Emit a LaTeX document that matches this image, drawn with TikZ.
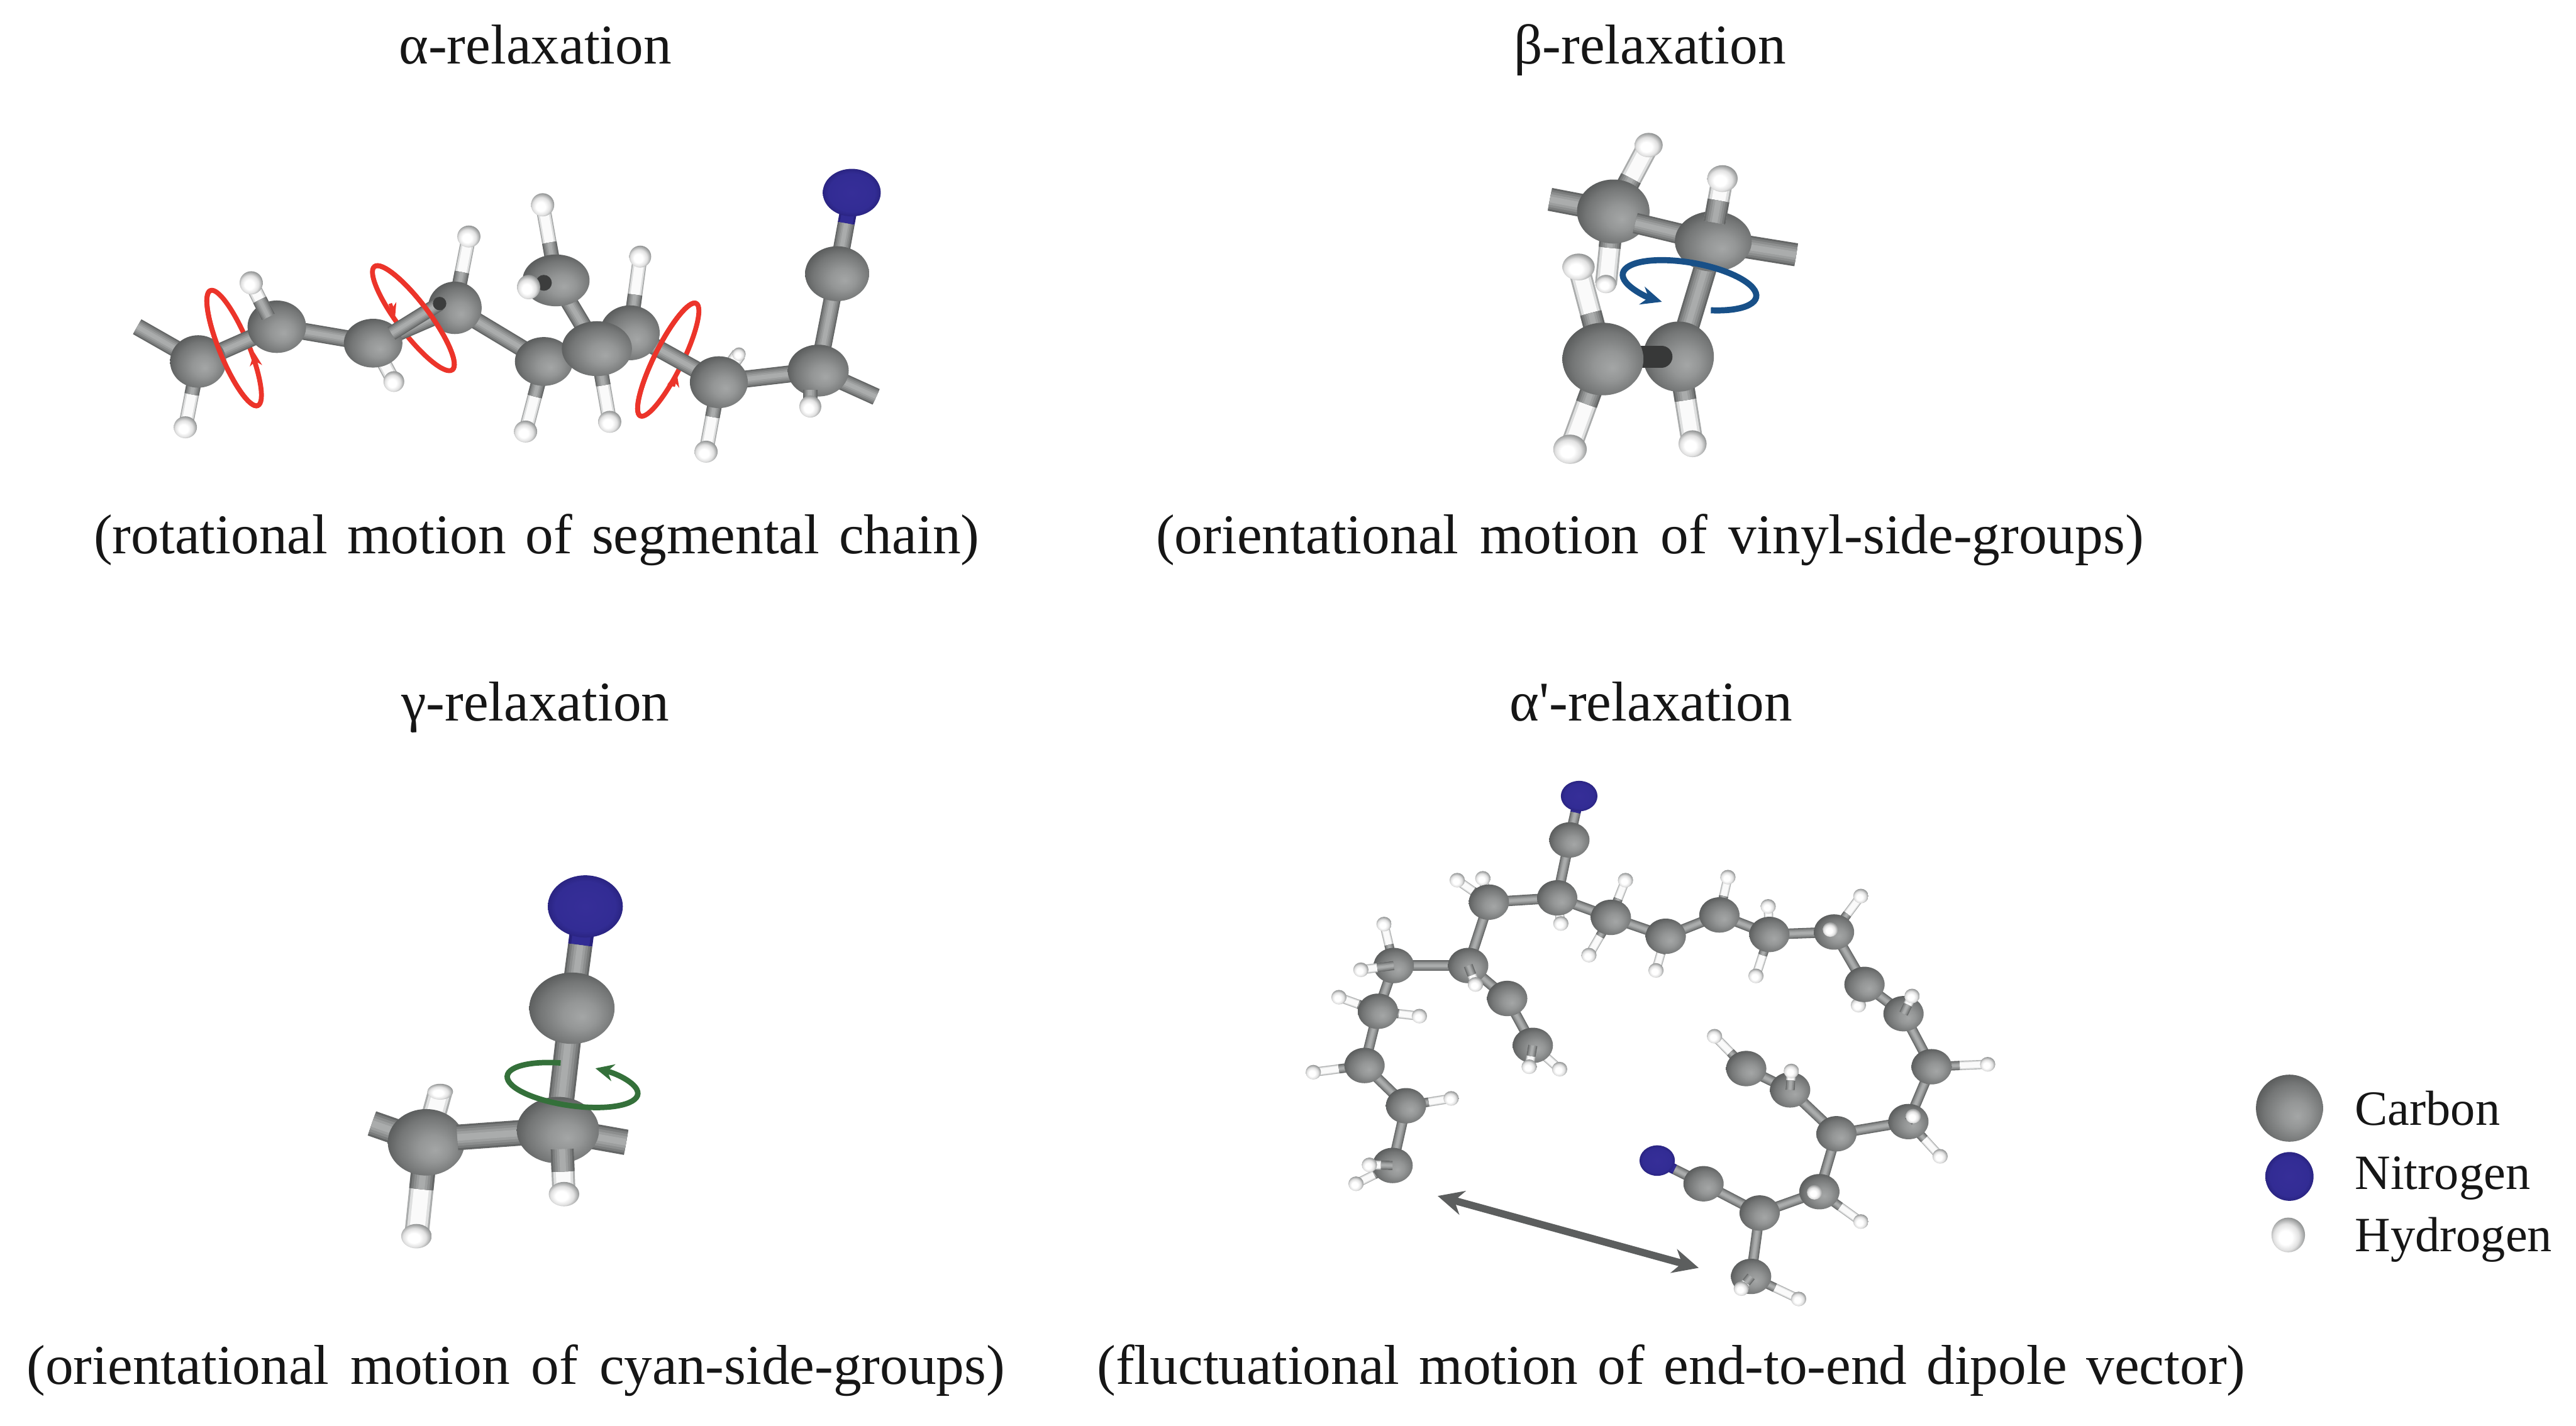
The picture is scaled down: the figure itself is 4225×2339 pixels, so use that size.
\documentclass[tikz,border=0pt]{standalone}
\usepackage{fontspec}
\setmainfont{Liberation Serif}
\newfontfamily\plainf{Liberation Serif}
\usetikzlibrary{shapes.geometric,arrows.meta,calc}
\pgfdeclarelayer{paper}\pgfdeclarelayer{bg}\pgfdeclarelayer{fg}
\pgfsetlayers{paper,bg,main,fg}
\definecolor{cb0}{RGB}{100,102,102}
\definecolor{cb1}{RGB}{122,124,124}
\definecolor{cb2}{RGB}{140,142,142}
\definecolor{cb3}{RGB}{156,158,158}
\definecolor{cb4}{RGB}{170,172,172}
\definecolor{hed}{RGB}{170,172,172}
\definecolor{hmd}{RGB}{222,223,223}
\definecolor{hlt}{RGB}{250,250,250}
\definecolor{nblue}{RGB}{50,44,148}
\definecolor{ndark}{RGB}{40,34,125}
\definecolor{ringred}{RGB}{236,52,42}
\definecolor{ringblue}{RGB}{24,80,136}
\definecolor{ringgreen}{RGB}{52,112,58}
\definecolor{arrgray}{RGB}{92,94,94}
\definecolor{inkc}{RGB}{22,22,22}
\definecolor{cs0}{RGB}{164,166,166}
\definecolor{cs1}{RGB}{148,150,150}
\definecolor{cs2}{RGB}{116,118,118}
\definecolor{cs3}{RGB}{78,80,80}
\definecolor{cs4}{RGB}{58,60,60}
\definecolor{hs2}{RGB}{225,225,225}
\definecolor{hs3}{RGB}{150,152,152}
\definecolor{hs4}{RGB}{95,97,97}
\definecolor{ns0}{RGB}{54,46,152}
\definecolor{ns1}{RGB}{50,44,148}
\definecolor{ns2}{RGB}{42,36,130}
\pgfdeclareradialshading{carbonsh}{\pgfpoint{6bp}{-6bp}}{color(0bp)=(cs0);color(10bp)=(cs1);color(22bp)=(cs2);color(32bp)=(cs3);color(50bp)=(cs4)}
\pgfdeclareradialshading{hydrosh}{\pgfpoint{-5bp}{-5bp}}{color(0bp)=(white);color(10bp)=(white);color(19bp)=(hs2);color(27bp)=(hs3);color(35bp)=(hs4);color(50bp)=(hs4)}
\pgfdeclareradialshading{nitrosh}{\pgfpoint{0bp}{0bp}}{color(0bp)=(ns0);color(20bp)=(ns1);color(25bp)=(ns2);color(50bp)=(ns2)}
\tikzset{
 atomshape/.style={ellipse,inner sep=0pt,outer sep=0pt,draw=none},
 carbon/.style={atomshape,shading=carbonsh},
 hydro/.style={atomshape,shading=hydrosh},
 nitro/.style={atomshape,shading=nitrosh},
 title/.style={anchor=base,text=inkc,font=\fontsize{26.2}{30}\selectfont},
 capt/.style={anchor=base,text=inkc,font=\fontsize{26.2}{30}\selectfont,execute at begin node={\spaceskip=.38em\relax}},
 capttight/.style={anchor=base,text=inkc,font=\fontsize{26.2}{30}\selectfont,execute at begin node={\spaceskip=.345em\relax}},
 legendt/.style={anchor=base west,text=inkc,font=\fontsize{23}{28}\selectfont},
 redline/.style={draw=ringred,line width=.08cm},
 blueline/.style={draw=ringblue,line width=.1cm},
 greenline/.style={draw=ringgreen,line width=.09cm},
}
\def\bw{26}
% #1 name, #2 x,y, #3 w, #4 h
\newcommand\atC[4]{\node[carbon,minimum width=#3*0.01cm,minimum height=#4*0.01cm] (#1) at (#2) {};}
\newcommand\atH[4]{\node[hydro,minimum width=#3*0.01cm,minimum height=#4*0.01cm] (#1) at (#2) {};}
\newcommand\atN[4]{\node[nitro,minimum width=#3*0.01cm,minimum height=#4*0.01cm] (#1) at (#2) {};}
\newcommand\grayseg[2]{%
 \draw[cb0,line width=\bw*0.01cm] (#1) -- (#2);
 \draw[cb1,line width=\bw*0.84*0.01cm] (#1) -- (#2);
 \draw[cb2,line width=\bw*0.66*0.01cm] (#1) -- (#2);
 \draw[cb3,line width=\bw*0.46*0.01cm] (#1) -- (#2);
 \draw[cb4,line width=\bw*0.26*0.01cm] (#1) -- (#2);}
\newcommand\mkbond[2]{\grayseg{#1.center}{#2.center}}
\newcommand\mkhb[2]{%
 \draw[hed,line width=\bw*0.01cm] (#1.center) -- (#2.center);
 \draw[hmd,line width=\bw*0.84*0.01cm] (#1.center) -- (#2.center);
 \draw[hlt,line width=\bw*0.62*0.01cm] (#1.center) -- (#2.center);
 \grayseg{#1.center}{$(#1.center)!.5!(#2.center)$}}
\newcommand\mknb[2]{%
 \draw[ndark,line width=\bw*0.01cm] (#2.center) -- ($(#1.center)!.62!(#2.center)$);
 \draw[nblue,line width=\bw*0.75*0.01cm] (#2.center) -- ($(#1.center)!.62!(#2.center)$);
 \grayseg{#1.center}{$(#1.center)!.62!(#2.center)$}}
\newcommand\redback[4]{\draw[redline,shift={(#1)},rotate=#4] (0,0) circle [x radius=#2cm,y radius=#3cm];}
\newcommand\redfront[6]{\draw[redline,shift={(#1)},rotate=#4] (#5:#2cm and #3cm) arc [start angle=#5,end angle=#6,x radius=#2cm,y radius=#3cm];}
\begin{document}
\begin{tikzpicture}[x=0.01cm,y=-0.01cm]
\begin{pgfonlayer}{paper}
\path[use as bounding box,fill=white] (0,0) rectangle (4225,2339);
\end{pgfonlayer}
% ---------- texts
\node[title] (ta) at (878,105) {α-relaxation};
\node[title] (tb) at (2706,105) {β-relaxation};
\node[title] (tc) at (878,1183) {γ-relaxation};
\node[title] (td) at (2708,1183) {α{\plainf '}-relaxation};
\node[capttight] (ca) at (880,908) {(rotational motion of segmental chain)};
\node[capt] (cb) at (2706,908) {(orientational motion of vinyl-side-groups)};
\node[capt] (cc) at (846,2271) {(orientational motion of cyan-side-groups)};
\node[capttight] (cd) at (2741,2271) {(fluctuational motion of end-to-end dipole vector)};
% ---------- alpha molecule
\atH{aH1}{304,701}{38}{36}
\atH{aH3}{646,626}{34}{34}
\atH{aH4}{769,388}{38}{36}
\atH{aH5}{890,336}{38}{38}
\atH{aH7}{1050,421}{36}{36}
\atH{aH8}{862,708}{38}{36}
\atH{aH9}{1000,692}{38}{36}
\atH{aH10}{1158,741}{38}{36}
\atH{aH12}{1212,581}{22}{22}
\atN{aN}{1397,316}{95}{78}
\atC{a7}{1033,546}{98}{90}
\atC{a1}{325,593}{92}{86}
\atC{a2}{454,536}{96}{86}
\atC{a3}{612,563}{96}{80}
\atC{a4}{746,505}{88}{86}
\atC{a5}{892,593}{95}{80}
\atC{a6}{979,572}{115}{90}
\atC{a8}{912,460}{110}{85}
\atC{a9}{1179,627}{95}{85}
\atC{a10}{1342,608}{100}{85}
\atC{a11}{1373,449}{105}{90}
\coordinate (aL) at (225,536);
\coordinate (aR) at (1437,651);
\coordinate (a3i) at (642,547);
\coordinate (a4i) at (721,498);
\coordinate (a8i) at (892,464);
\coordinate (aH2i) at (440,520);
\coordinate (aH2e) at (412,464);
\coordinate (aH11i) at (1329,640);
\coordinate (aH11e) at (1329,667);
\begin{pgfonlayer}{bg}
 \redback{384,571}{1.02}{.24}{-67.6}
 \redback{678,522}{1.06}{.26}{-53}
 \redback{1096,590}{1.03}{.23}{63.6}
 \def\bw{28}
 \mkbond{aL}{a1}\mkbond{a1}{a2}\mkbond{a2}{a3}\mkbond{a3}{a4}\mkbond{a4}{a5}\mkbond{a5}{a6}\mkbond{a6}{a8}\mkbond{a6}{a7}\mkbond{a7}{a9}\mkbond{a9}{a10}\mkbond{a10}{aR}\mkbond{a10}{a11}
 \mknb{a11}{aN}
 \def\bw{24}
 \mkhb{a1}{aH1}\mkhb{a3}{aH3}\mkhb{a4}{aH4}\mkhb{a8}{aH5}\mkhb{a7}{aH7}\mkhb{a5}{aH8}\mkhb{a6}{aH9}\mkhb{a9}{aH10}\mkhb{a9}{aH12}
\end{pgfonlayer}
\begin{pgfonlayer}{fg}
 \def\bw{24}
 \grayseg{a3i}{a4i}
 \fill[cb0!60!black] (a4i) circle [radius=.11cm];
 \mkhb{aH2i}{aH2e}
 \atH{aH2}{412,464}{38}{38}
 \fill[cb0!60!black] (a8i) circle [radius=.13cm];
 \atH{aH6}{867,471}{38}{40}
 \grayseg{aH11i}{aH11e}
 \atH{aH11}{1329,667}{36}{36}
 \redfront{384,571}{1.02}{.24}{-67.6}{180}{360}
 \redfront{678,522}{1.06}{.26}{-53}{0}{180}
 \redfront{1096,590}{1.03}{.23}{63.6}{0}{180}
 \draw[ringred,line width=.06cm,-{Stealth[length=.22cm,width=.2cm]}] (420,602) -- (417,578);
 \draw[ringred,line width=.06cm,-{Stealth[length=.22cm,width=.2cm]}] (640,498) -- (648,520);
 \draw[ringred,line width=.06cm,-{Stealth[length=.22cm,width=.2cm]}] (1104,634) -- (1110,612);
\end{pgfonlayer}
% ---------- beta molecule
\atH{bHd}{2634,466}{34}{30}
\atH{bHc}{2589,438}{53}{44}
\atH{bHa}{2704,238}{46}{40}
\atH{bHe}{2575,737}{55}{48}
\atH{bHf}{2776,728}{46}{44}
\atC{bd}{2753,585}{116}{115}
\coordinate (bstk) at (2725,585);
\coordinate (bstk0) at (2680,585);
\draw[cb0!55!black,line width=.36cm,line cap=round] (bstk0) -- (bstk);
\atC{bc}{2629,589}{133}{119}
\atC{ba}{2646,347}{119}{105}
\coordinate (bab) at (2682,366);
\coordinate (bba) at (2790,392);
\begin{scope}\def\bw{34}\grayseg{bab}{bba}\end{scope}
\atC{bb}{2810,396}{126}{99}
\coordinate (bL) at (2542,327);
\coordinate (bR) at (2946,418);
\coordinate (bbi) at (2812,365);
\begin{pgfonlayer}{bg}
 \def\bw{38}
 \mkbond{ba}{bL}\mkbond{bb}{bR}\mkbond{bb}{bd}
 \def\bw{36}
 \mkhb{ba}{bHa}\mkhb{ba}{bHd}\mkhb{bc}{bHc}\mkhb{bc}{bHe}\mkhb{bd}{bHf}
\end{pgfonlayer}
\begin{pgfonlayer}{fg}
 \def\bw{36}
 \coordinate (bHb-c) at (2825,293);
 \mkhb{bbi}{bHb-c}
 \atH{bHb}{2825,293}{50}{44}
 \draw[blueline,-{Stealth[length=.34cm,width=.3cm]},shift={(2771,468)},rotate=-10] (-68:1.11cm and .37cm) arc [start angle=-68,end angle=249,x radius=1.11cm,y radius=.37cm];
\end{pgfonlayer}
% ---------- gamma molecule
\atH{gHt}{722,1791}{42}{26}
\atH{gH2}{683,2028}{50}{40}
\atN{gN}{960,1487}{123}{102}
\atC{g1}{938,1654}{140}{117}
\atC{g3}{699,1874}{126}{109}
\coordinate (g3i) at (750,1866);
\coordinate (g2j) at (860,1858);
\begin{scope}\def\bw{42}\grayseg{g3i}{g2j}\end{scope}
\atC{g2}{915,1854}{135}{109}
\coordinate (gL) at (610,1843);
\coordinate (gR) at (1027,1874);
\coordinate (g2i) at (922,1885);
\begin{pgfonlayer}{bg}
 \def\bw{42}
 \mkbond{g1}{g2}\mkbond{g3}{gL}\mkbond{g2}{gR}
 \def\bw{40}
 \mknb{g1}{gN}
 \mkhb{g3}{gHt}\mkhb{g3}{gH2}
\end{pgfonlayer}
\begin{pgfonlayer}{fg}
 \def\bw{38}
 \coordinate (gH1-c) at (925,1959);
 \mkhb{g2i}{gH1-c}
 \atH{gH1}{925,1959}{50}{40}
 \draw[greenline,-{Stealth[length=.3cm,width=.28cm]},shift={(939,1780)},rotate=-8] (103:1.08cm and .34cm) arc [start angle=103,end angle=432,x radius=1.08cm,y radius=.34cm];
\end{pgfonlayer}
% ---------- alpha' molecule
\foreach \nm/\xx/\yy in {h12/3048/1649,h1/2390/1444,h2/2432/1441,h3/2666/1444,h4/2560/1515,h5/2606/1567,h6/2716/1592,h7/2834/1439,h8/2900/1487,h9/2880/1601,h10/3052/1470,h14/3260/1746,h16/3182/1897,h18/3052/2004,h19/2812/1700,h22/2950/2131,h23/2270/1516,h25/2196/1636,h26/2328/1667,h27/2154/1759,h28/2380/1802,h30/2224/1942,h33/2558/1754}
  {\atH{\nm}{\xx,\yy}{25}{24}}
\atN{pn1}{2590,1306}{60}{50}
\atN{pn2}{2718,1904}{58}{50}
\foreach \nm/\xx/\yy in {p1/2574/1378,p2/2554/1473,p3/2442/1480,p4/2408/1584,p5/2286/1584,p6/2260/1659,p7/2238/1748,p8/2306/1814,p9/2284/1912,p10/2472/1638,p11/2514/1715,p12/2642/1505,p13/2732/1536,p14/2820/1501,p15/2902/1533,p16/3008/1529,p17/3058/1615,p18/3122/1663,p19/3168/1750,p20/3130/1840,p21/3012/1860,p22/2984/1955,p23/2886/1990,p24/2794/1942,p25/2872/2094,p26/2864/1753,p27/2936/1788}
  {\atC{\nm}{\xx,\yy}{66}{58}}
\begin{pgfonlayer}{bg}
 \def\bw{17}
 \mkbond{p1}{p2}\mkbond{p2}{p3}\mkbond{p3}{p4}\mkbond{p4}{p5}\mkbond{p5}{p6}\mkbond{p6}{p7}\mkbond{p7}{p8}\mkbond{p8}{p9}\mkbond{p4}{p10}\mkbond{p10}{p11}\mkbond{p2}{p12}\mkbond{p12}{p13}\mkbond{p13}{p14}\mkbond{p14}{p15}\mkbond{p15}{p16}\mkbond{p16}{p17}\mkbond{p17}{p18}\mkbond{p18}{p19}\mkbond{p19}{p20}\mkbond{p20}{p21}\mkbond{p21}{p22}\mkbond{p22}{p23}\mkbond{p23}{p24}\mkbond{p23}{p25}\mkbond{p21}{p27}\mkbond{p27}{p26}
 \mknb{p1}{pn1}\mknb{p24}{pn2}
 \def\bw{15}
 \mkhb{p3}{h1}\mkhb{p3}{h2}\mkhb{p12}{h3}\mkhb{p2}{h4}\mkhb{p12}{h5}\mkhb{p13}{h6}\mkhb{p14}{h7}\mkhb{p15}{h8}\mkhb{p15}{h9}\mkhb{p16}{h10}\mkhb{p17}{h12}\mkhb{p19}{h14}\mkhb{p20}{h16}\mkhb{p22}{h18}\mkhb{p25}{h22}\mkhb{p5}{h23}\mkhb{p6}{h25}\mkhb{p6}{h26}\mkhb{p7}{h27}\mkhb{p8}{h28}\mkhb{p9}{h30}\mkhb{p11}{h33}\mkhb{p26}{h19}
\end{pgfonlayer}
\begin{pgfonlayer}{fg}
 \def\bw{15}
 \foreach \nm/\prnt/\xx/\yy in {h11/p16/3002/1525,h13/p18/3136/1634,h15/p20/3138/1831,h17/p22/2976/1956,h20/p27/2938/1757,h21/p25/2856/2114,h24/p5/2232/1591,h29/p9/2246/1911,h31/p4/2420/1615,h32/p11/2508/1750}{
   \coordinate (\nm-c) at (\xx,\yy);
   \mkhb{\prnt}{\nm-c}
   \atH{\nm}{\xx,\yy}{25}{24}
 }
\end{pgfonlayer}
\coordinate (dA) at (2358,1962);
\coordinate (dB) at (2786,2080);
\draw[arrgray,line width=.12cm,{Stealth[length=.42cm,width=.4cm]}-{Stealth[length=.42cm,width=.4cm]}] (dA) -- (dB);
% ---------- legend
\atC{lC}{3755,1818}{110}{110}
\atN{lN}{3755,1930}{79}{80}
\atH{lH}{3753,2026}{55}{57}
\node[legendt] (lCt) at (3850,1846) {Carbon};
\node[legendt] (lNt) at (3850,1951) {Nitrogen};
\node[legendt] (lHt) at (3850,2053) {Hydrogen};
\end{tikzpicture}
\end{document}
